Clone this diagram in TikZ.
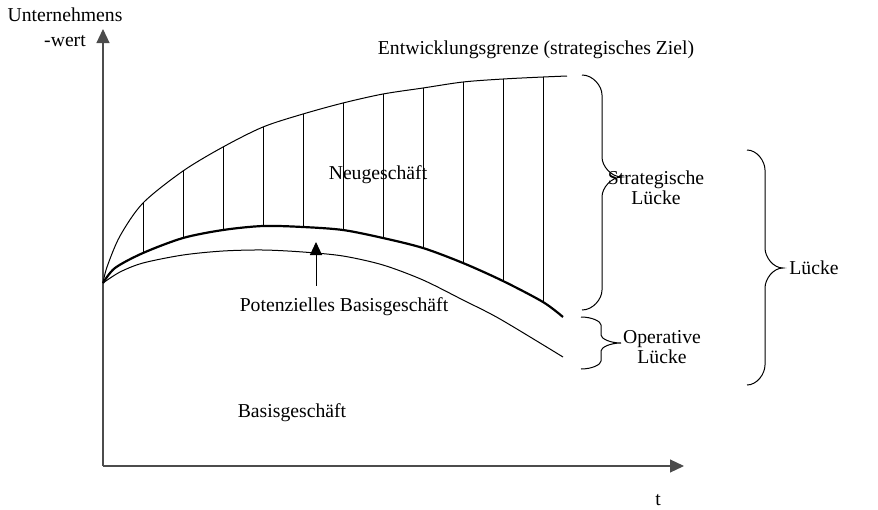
\documentclass[tikz,border=0pt]{standalone}
\usepackage{fontspec}
\setmainfont{Liberation Serif}
\usepackage{tikz}
\usetikzlibrary{arrows.meta}

\begin{document}
\begin{tikzpicture}[
  x=0.5pt, y=-0.5pt,
  lbl/.style     = {inner sep=0pt, align=center,
                    font=\fontsize{9.85}{10}\selectfont},
  achse/.style   = {-{Triangle[length=7pt,width=6.5pt]}, line width=0.55pt,
                    color=black!70},
  kurve/.style   = {line width=0.5pt},
  dick/.style    = {line width=1.1pt},
  schraff/.style = {line width=0.5pt},
  klammer/.style = {line width=0.5pt},
  pfeil/.style   = {-{Triangle[length=6.5pt,width=6pt]}, line width=0.5pt}
]
\useasboundingbox (0,0) rectangle (878,509);

% axes
\coordinate (O)    at (103,466);
\coordinate (yend) at (103,29);
\coordinate (xend) at (684,466);
\draw[achse] (O) -- (yend);
\draw[achse] (O) -- (xend);

% Entwicklungsgrenze
\draw[kurve] plot[smooth] coordinates {(103,283) (107,267) (120,236) (143,203)
  (183,171) (223,147) (263,127) (303,114) (343,103) (383,94) (423,88)
  (463,82) (503,79) (543,77) (567,76)};
% potenzielles Basisgeschaeft
\draw[dick] plot[smooth] coordinates {(103,283) (115,268) (143,253) (183,238)
  (223,230) (263,226) (303,227) (343,230) (383,238) (423,248) (463,263)
  (503,281) (543,302) (563,317)};
% Basisgeschaeft
\draw[kurve] plot[smooth] coordinates {(103,283) (120,272) (143,263) (183,255)
  (223,251) (263,250) (303,252) (343,256) (383,265) (423,280) (463,300)
  (500,319) (563,357)};

\foreach \x/\a/\b in {143/203/253, 183/171/238, 223/147/230, 263/127/226,
                      303/114/227, 343/103/230, 383/94/238, 423/88/248,
                      463/82/263, 503/79/281, 543/77/302}{
  \draw[schraff] (\x,\a) -- (\x,\b);
}

\node[lbl] (yl)  at (65,27)   {Unternehmens\\[2.5pt]-wert};
\node[lbl] (tl)  at (658,500) {t};
\node[lbl] (eg)  at (536,50)  {Entwicklungsgrenze (strategisches Ziel)};
\node[lbl] (ng)  at (378,175) {Neugeschäft};
\node[lbl] (pot) at (344,307) {Potenzielles Basisgeschäft};
\node[lbl] (bg)  at (292,413) {Basisgeschäft};
\node[lbl] (sl)  at (656,188) {Strategische\\Lücke};
\node[lbl] (ol)  at (662,347) {Operative\\Lücke};
\node[lbl] (gl)  at (814,268) {Lücke};

\coordinate (pbg) at (316,242);
\draw[pfeil, shorten <=6pt] (pot.north -| pbg) -- (pbg);

% braces: left x / top / tip / bottom / width / curl height
\foreach \x/\t/\m/\b/\w/\r in {582/75/177/310/20/20, 581/317/343/369/20/8,
                               747/150/268/385/18/20}{
  \draw[klammer] (\x,\t) .. controls +(0.55*\w,0) and +(0,-0.45*\r) .. (\x+\w,\t+\r)
    -- (\x+\w,\m-\r) .. controls +(0,0.45*\r) and +(-0.55*\w,0) .. (\x+2*\w,\m)
    .. controls +(-0.55*\w,0) and +(0,-0.45*\r) .. (\x+\w,\m+\r)
    -- (\x+\w,\b-\r) .. controls +(0,0.45*\r) and +(0.55*\w,0) .. (\x,\b);
}
\end{tikzpicture}
\end{document}
